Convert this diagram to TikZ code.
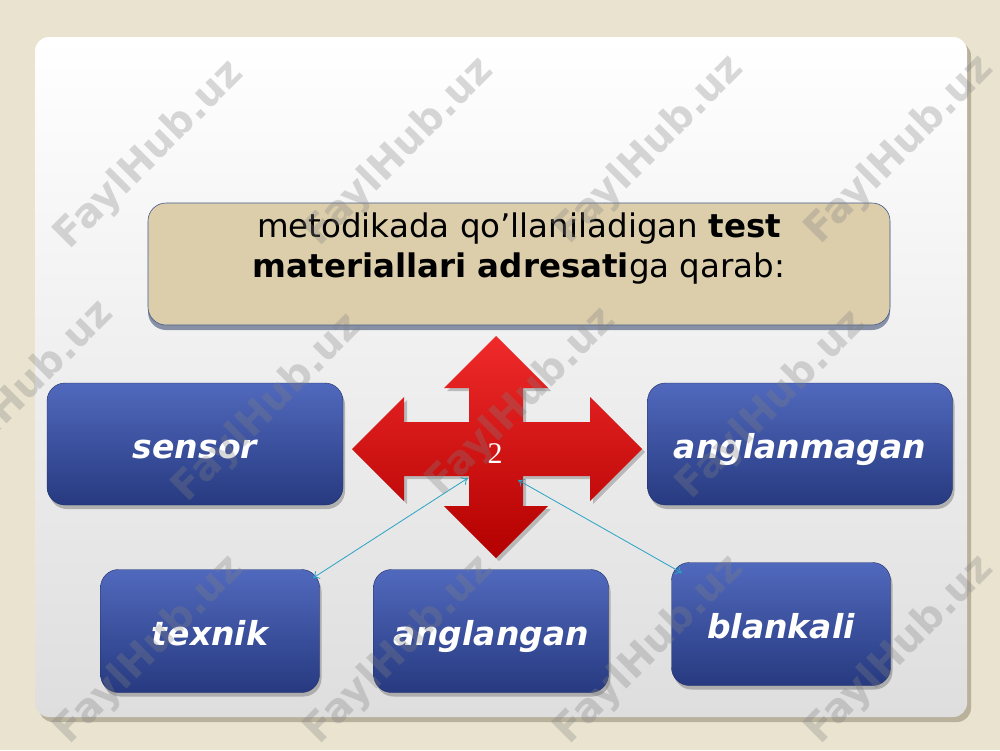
\documentclass[tikz,border=0pt]{standalone}
\usepackage{fontspec}
\setmainfont{DejaVu Sans}
\newfontfamily\numfont{Liberation Serif}
\usetikzlibrary{arrows.meta,shadows}
\definecolor{bgbeige}{HTML}{E9E3CF}
\definecolor{panelshadow}{HTML}{B9B19C}
\definecolor{panelbot}{HTML}{DEDEDE}
\definecolor{tan}{HTML}{DCCDAB}
\definecolor{tanborder}{HTML}{41598B}
\definecolor{bluetop}{HTML}{5169BD}
\definecolor{bluebot}{HTML}{273A80}
\definecolor{redtop}{HTML}{F02A2A}
\definecolor{redbot}{HTML}{B30000}
\definecolor{cyanline}{HTML}{27A3C4}
\begin{document}
\begin{tikzpicture}[x=1pt,y=-1pt,
  bluebox/.style={rounded corners=18pt, top color=bluetop, bottom color=bluebot,
    draw=bluebot!80!black, line width=0.4pt, text=white,
    font=\fontsize{33}{38}\selectfont\bfseries\itshape,
    text height=30pt, text depth=2pt,
    drop shadow={shadow xshift=2pt, shadow yshift=-4pt, fill=black!45, opacity=0.6}},
  topbox/.style={rounded corners=18pt, fill=tan, draw=tanborder, line width=0.6pt,
    drop shadow={shadow xshift=0pt, shadow yshift=-5pt, fill=tanborder!60!gray, opacity=0.7}},
  link/.style={draw=cyanline, line width=0.8pt, {To[length=6pt,width=9pt]}-{To[length=6pt,width=9pt]}},
  wm/.style={rotate=45, text=gray, opacity=0.3, font=\fontsize{40}{40}\selectfont\bfseries}
]
\useasboundingbox (0,0) rectangle (1000,750);
% background
\fill[bgbeige] (0,0) rectangle (1000,750);
% panel
\fill[panelshadow, rounded corners=14pt] (39,42) rectangle (971,722);
\shade[rounded corners=14pt, top color=white, bottom color=panelbot] (35,37) rectangle (967,717);

% top box
\node[topbox, minimum width=742pt, minimum height=122pt] (top) at (519,264) {};
\node[align=center, font=\fontsize{32.5}{40}\selectfont] (toptext) at (519,249)
  {metodikada qo’llaniladigan \textbf{test}\\ \textbf{materiallari adresati}ga qarab:};

% red four-way arrow
\path[fill=black!40, opacity=0.6, shift={(3,3)}]
  (496,336) -- (548,388) -- (523,388) -- (523,422) -- (590,422) -- (590,397) -- (642,449)
  -- (590,501) -- (590,476) -- (523,476) -- (523,506) -- (548,506) -- (496,558)
  -- (444,506) -- (469,506) -- (469,476) -- (404,476) -- (404,501) -- (352,449)
  -- (404,397) -- (404,422) -- (469,422) -- (469,388) -- (444,388) -- cycle;
\shade[top color=redtop, bottom color=redbot]
  (496,336) -- (548,388) -- (523,388) -- (523,422) -- (590,422) -- (590,397) -- (642,449)
  -- (590,501) -- (590,476) -- (523,476) -- (523,506) -- (548,506) -- (496,558)
  -- (444,506) -- (469,506) -- (469,476) -- (404,476) -- (404,501) -- (352,449)
  -- (404,397) -- (404,422) -- (469,422) -- (469,388) -- (444,388) -- cycle;
\node[text=white, font=\numfont\fontsize{30}{30}\selectfont] (num) at (495,454) {2};

% blue boxes
\node[bluebox, minimum width=296pt, minimum height=122pt] (sensor) at (195,444) {sensor};
\node[bluebox, minimum width=305pt, minimum height=122pt] (anglanmagan) at (800,444) {anglanmagan};
\node[bluebox, minimum width=219pt, minimum height=123pt] (texnik) at (210,631) {texnik};
\node[bluebox, minimum width=235pt, minimum height=123pt] (anglangan) at (491,631) {anglangan};
\node[bluebox, minimum width=219pt, minimum height=123pt] (blankali) at (781,624) {blankali};

% cyan connectors
\coordinate (c1) at (468,478);
\coordinate (c2) at (518,480);
\coordinate (t1) at (313,578);
\coordinate (b1) at (682,573);
\draw[link] (c1) -- (t1);
\draw[link] (c2) -- (b1);

% watermarks
\foreach \x/\y in {150/155, 400/152, 650/150, 900/150,
                   20/395, 268/408, 522/402, 772/405,
                   150/650, 400/650, 650/650, 900/650}
  \node[wm] at (\x,\y) {FaylHub.uz};
\end{tikzpicture}
\end{document}
